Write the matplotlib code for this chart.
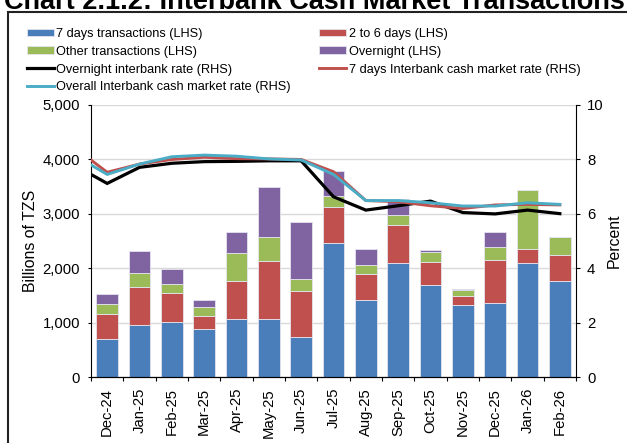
import numpy as np
import matplotlib
matplotlib.use("Agg")
import matplotlib.pyplot as plt
from matplotlib.patches import Rectangle
from matplotlib.ticker import FuncFormatter

plt.rcParams['font.family'] = ['Liberation Sans', 'DejaVu Sans']

months = ['Dec-24', 'Jan-25', 'Feb-25', 'Mar-25', 'Apr-25', 'May-25', 'Jun-25',
          'Jul-25', 'Aug-25', 'Sep-25', 'Oct-25', 'Nov-25', 'Dec-25', 'Jan-26', 'Feb-26']

# billions of TZS (LHS)
seven_days = [698, 955, 1010, 887, 1065, 1065, 746, 2466, 1419, 2104, 1695, 1333, 1370, 2093, 1768]
two_to_six = [470, 697, 532, 239, 703, 1076, 845, 667, 472, 698, 422, 165, 784, 269, 483]
other = [172, 263, 171, 165, 509, 435, 220, 202, 171, 178, 184, 105, 239, 1083, 331]
overnight = [184, 398, 276, 128, 385, 913, 1046, 459, 288, 288, 31, 24, 269, 0, 0]

# percent (RHS); the line series starts one month earlier (Nov-24)
overnight_rate = [7.78, 7.12, 7.71, 7.86, 7.92, 7.93, 7.95, 7.95, 6.63, 6.14, 6.30, 6.47, 6.05, 6.00, 6.14, 6.01]
seven_day_rate = [8.43, 7.53, 7.83, 8.00, 8.08, 8.03, 8.02, 8.00, 7.55, 6.49, 6.45, 6.30, 6.20, 6.33, 6.35, 6.33]
overall_rate = [8.15, 7.45, 7.83, 8.10, 8.16, 8.12, 8.02, 7.98, 7.45, 6.49, 6.49, 6.41, 6.29, 6.29, 6.41, 6.35]

blue = '#4A7EBB'
red = '#C0504D'
green = '#9BBB59'
purple = '#8064A2'
cyan = '#4BACC6'

fig = plt.figure(figsize=(6.27, 4.43), dpi=100)
ax = fig.add_axes([91 / 627, 1 - 377.3 / 443, 485 / 627, 272.3 / 443])

x = np.arange(len(months))
w = 0.68
edge = dict(edgecolor='#e4e4ee', linewidth=0.6)
b1 = ax.bar(x, seven_days, w, color=blue, zorder=2, **edge)
bot = np.array(seven_days)
b2 = ax.bar(x, two_to_six, w, bottom=bot, color=red, zorder=2, **edge)
bot = bot + np.array(two_to_six)
b3 = ax.bar(x, other, w, bottom=bot, color=green, zorder=2, **edge)
bot = bot + np.array(other)
b4 = ax.bar(x, overnight, w, bottom=bot, color=purple, zorder=2, **edge)

ax.set_xlim(-0.5, len(months) - 0.5)
ax.set_ylim(0, 5000)
ax.set_yticks(range(0, 5001, 1000))
ax.yaxis.set_major_formatter(FuncFormatter(lambda v, p: f'{int(v):,}'))
ax.grid(axis='y', color='#d9d9d9', linewidth=1, zorder=0)
ax.set_axisbelow(True)
ax.set_xticks(x)
ax.set_xticklabels(months, rotation=90, fontsize=10.7)
ax.set_xticks(np.arange(-0.5, len(months)), minor=True)
ax.tick_params(axis='x', which='major', length=0, pad=7.7)
ax.tick_params(axis='x', which='minor', length=3, direction='out', width=0.8)
ax.tick_params(axis='y', length=2.4, width=0.8, pad=5.5, labelsize=10.7)
ax.set_ylabel('Billions of TZS', fontsize=11.4, labelpad=3)
for s in ['top', 'right']:
    ax.spines[s].set_visible(False)

ax2 = ax.twinx()
xl = np.arange(len(overall_rate)) - 1
l1, = ax2.plot(xl, overnight_rate, color='black', lw=2.3, solid_joinstyle='miter')
l2, = ax2.plot(xl, seven_day_rate, color=red, lw=2.1)
l3, = ax2.plot(xl, overall_rate, color=cyan, lw=2.1)
ax2.set_xlim(-0.5, len(months) - 0.5)
ax2.set_ylim(0, 10)
ax2.set_yticks(range(0, 11, 2))
ax2.tick_params(axis='y', length=3, width=0.8, pad=5, labelsize=10.7)
ax2.set_ylabel('Percent', fontsize=11.4, labelpad=2)
for s in ['top', 'left']:
    ax2.spines[s].set_visible(False)

handles = [b1, b3, l1, l3, b2, b4, l2]
labels = ['7 days transactions (LHS)', 'Other transactions (LHS)',
          'Overnight interbank rate (RHS)', 'Overall Interbank cash market rate (RHS)',
          '2 to 6 days (LHS)', 'Overnight (LHS)', '7 days Interbank cash market rate (RHS)']
fig.legend(handles, labels, ncol=2, loc='upper left', bbox_to_anchor=(27 / 627, 1 - 28 / 443),
           frameon=False, fontsize=9.2, handlelength=2.1, handleheight=0.57,
           handletextpad=0.2, columnspacing=2.2, labelspacing=0.45,
           borderpad=0, borderaxespad=0)

fig.text(4 / 627, 1 - 9 / 443, 'Chart 2.1.2: Interbank Cash Market Transactions',
         fontsize=19.5, weight='bold', ha='left', va='baseline')
fig.patches.append(Rectangle((8 / 627, -0.1), 1.0, 1 - 12 / 443 + 0.1,
                             transform=fig.transFigure, fill=False,
                             lw=1.5, ec='#222222'))

fig.savefig('out.png', dpi=100)
